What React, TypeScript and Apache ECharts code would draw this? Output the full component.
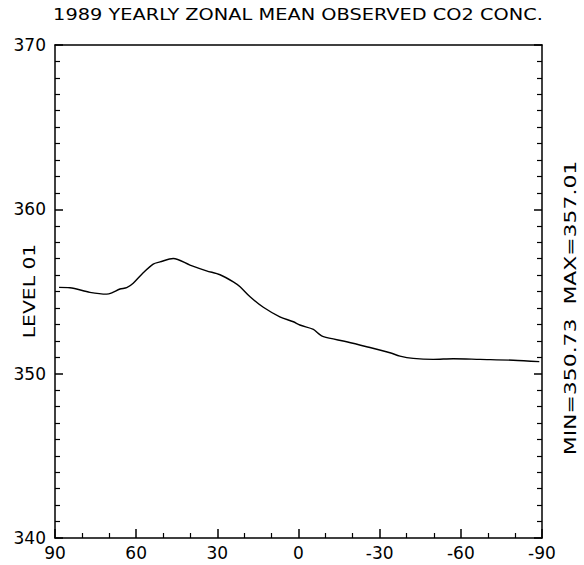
import React, { useEffect, useRef } from "react";
import * as echarts from "echarts";

const TITLE = "1989 YEARLY ZONAL MEAN OBSERVED CO2 CONC.";
const Y_NAME = "LEVEL 01";
const STATS = "MIN=350.73  MAX=357.01";

const latitudes = [
  88.5, 84.5, 77.1, 70.9, 69.0, 66.0, 63.5, 61.1, 57.4, 53.7, 51.2, 46.3,
  40.1, 34.0, 29.0, 24.1, 21.6, 17.9, 13.0, 6.9, 1.9, -0.5, -5.5, -7.3, -9.2,
  -17.8, -25.2, -33.8, -37.5, -42.4, -49.8, -57.2, -67.1, -79.4, -89.0,
];
const co2 = [
  355.25, 355.23, 354.95, 354.84, 354.92, 355.15, 355.23, 355.5, 356.14,
  356.67, 356.8, 357.01, 356.61, 356.26, 356.02, 355.59, 355.29, 354.68,
  354.04, 353.46, 353.16, 352.96, 352.7, 352.45, 352.25, 351.94, 351.64,
  351.27, 351.07, 350.93, 350.87, 350.91, 350.87, 350.82, 350.73,
];

const X_MIN = -90;
const X_MAX = 90;
const X_STEP = 30;
const Y_MIN = 340;
const Y_MAX = 370;
const Y_STEP = 10;

export default function App() {
  const ref = useRef<HTMLDivElement>(null);
  useEffect(() => {
    if (!ref.current) return;
    const chart = echarts.init(ref.current, null, { renderer: "svg" });
    const font = '"DejaVu Sans"';
    const lineStyle = { color: "#000", width: 1.5 };
    const minorStyle = { color: "#000", width: 1.2 };
    const data = latitudes.map((lat, i) => [lat, co2[i]]);
    chart.setOption({
      animation: false,
      backgroundColor: "#fff",
      grid: { left: 55, right: 42, top: 45, bottom: 27 },
      xAxis: [
        {
          type: "value",
          min: X_MIN,
          max: X_MAX,
          interval: X_STEP,
          inverse: true,
          position: "bottom",
          splitLine: { show: false },
          axisLine: { show: true, onZero: false, lineStyle },
          axisTick: { show: true, inside: true, length: 9, lineStyle },
          minorTick: { show: true, splitNumber: 3, length: 5, lineStyle: minorStyle },
          axisLabel: {
            color: "#000",
            fontFamily: font,
            fontSize: 17,
            margin: 6,
            formatter: (v: number) => String(v),
          },
        },
        {
          type: "value",
          min: X_MIN,
          max: X_MAX,
          interval: X_STEP,
          inverse: true,
          position: "top",
          splitLine: { show: false },
          axisLine: { show: true, onZero: false, lineStyle },
          axisTick: { show: false },
          axisLabel: { show: false },
        },
      ],
      yAxis: [
        {
          type: "value",
          min: Y_MIN,
          max: Y_MAX,
          interval: Y_STEP,
          position: "left",
          splitLine: { show: false },
          axisLine: { show: true, onZero: false, lineStyle },
          axisTick: { show: true, inside: true, length: 8, lineStyle },
          minorTick: { show: true, splitNumber: 10, length: 5, lineStyle: minorStyle },
          axisLabel: { color: "#000", fontFamily: font, fontSize: 17, margin: 9 },
        },
        {
          type: "value",
          min: Y_MIN,
          max: Y_MAX,
          interval: Y_STEP,
          position: "right",
          splitLine: { show: false },
          axisLine: { show: true, onZero: false, lineStyle },
          axisTick: { show: true, inside: true, length: 8, lineStyle },
          minorTick: { show: true, splitNumber: 10, length: 5, lineStyle: minorStyle },
          axisLabel: { show: false },
        },
      ],
      series: [
        {
          type: "line",
          data,
          xAxisIndex: 0,
          yAxisIndex: 0,
          showSymbol: false,
          smooth: 0.3,
          lineStyle: { color: "#000", width: 1.4 },
        },
      ],
      graphic: [
        {
          type: "text",
          x: 298,
          y: 15,
          scaleX: 1.21,
          style: {
            text: TITLE,
            font: `16px ${font}`,
            fill: "#000",
            align: "center",
            verticalAlign: "middle",
          },
        },
        {
          type: "text",
          x: 29,
          y: 291,
          rotation: Math.PI / 2,
          scaleX: 1.27,
          style: {
            text: Y_NAME,
            font: `16px ${font}`,
            fill: "#000",
            align: "center",
            verticalAlign: "middle",
          },
        },
        {
          type: "text",
          x: 571,
          y: 308,
          rotation: Math.PI / 2,
          scaleX: 1.37,
          style: {
            text: STATS,
            font: `16px ${font}`,
            fill: "#000",
            align: "center",
            verticalAlign: "middle",
          },
        },
      ],
    });
    return () => chart.dispose();
  }, []);
  return <div ref={ref} style={{ width: 584, height: 565, position: "absolute", left: 0, top: 0 }} />;
}
